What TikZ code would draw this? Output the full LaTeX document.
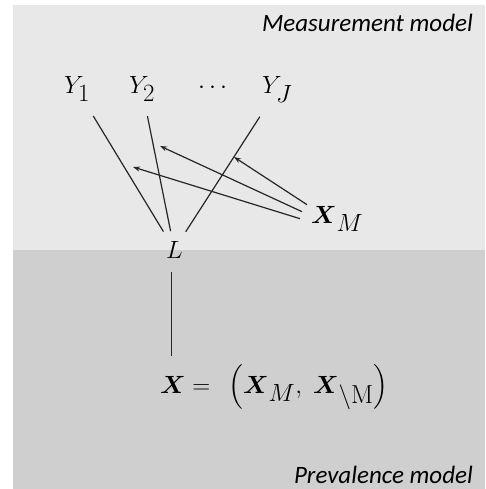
\documentclass[tikz,border=0pt]{standalone}
\usepackage{amsmath}
\usepackage{fontspec}
\newfontfamily\labfont{Carlito}
\DeclareMathSizes{35}{35}{26}{19}
\DeclareMathSizes{31}{31}{26}{18}
\usetikzlibrary{arrows.meta,calc}
\begin{document}
\begin{tikzpicture}[x=1pt,y=-1pt,
  var/.style={inner sep=0pt, outer sep=0pt, anchor=base west, font=\fontsize{35}{40}\selectfont},
  link/.style={draw=black!85, line width=1.2pt},
  eff/.style={link, -{Stealth[length=7pt,width=5pt]}},
  lab/.style={inner sep=0pt, anchor=base east, font=\labfont\itshape\fontsize{25}{30}\selectfont}]
\useasboundingbox (0,0) rectangle (485,489);
\fill[white] (0,0) rectangle (485,489);
\fill[black!9] (13,5) rectangle (485,250);
\fill[black!19] (13,250) rectangle (485,489);
\node[lab] (mm) at (473,32) {Measurement model};
\node[lab] (pm) at (473,483) {Prevalence model};
\node[var] (Y1) at (64,94) {$Y_1$};
\node[var] (Y2) at (129,94) {$Y_2$};
\node[var, font=\fontsize{28}{30}\selectfont] (dots) at (198,94) {$\cdots$};
\node[var] (YJ) at (262,94) {$Y_J$};
\node[var] (XM) at (311,223) {$\boldsymbol{X}_M$};
\node[var] (L) at (166,258) {$L$};
\node[var, font=\fontsize{31}{36}\selectfont] (X) at (160,393) {$\boldsymbol{X} =\;\, \Bigl(\boldsymbol{X}_M,\; \boldsymbol{X}_{\backslash\mathrm{M}}\Bigr)$};
\coordinate (a1) at (234,157);
\coordinate (a2) at (160,146);
\coordinate (a3) at (133,167);
\draw[link, shorten <=17pt, shorten >=11pt] (Y1) -- (L);
\draw[link, shorten <=15pt, shorten >=10pt] (Y2) -- (L);
\draw[link, shorten <=17pt, shorten >=11pt] (YJ) -- (L);
\draw[link, shorten <=14pt, shorten >=8pt] ([xshift=-3pt]L.south) -- ([xshift=-3pt]L.south |- X.north);
\draw[eff] ($(XM.west)+(-4,-14)$) -- (a1);
\draw[eff] ($(XM.west)+(-9,-7)$) -- (a2);
\draw[eff] ($(XM.west)+(-11,0)$) -- (a3);
\end{tikzpicture}
\end{document}
